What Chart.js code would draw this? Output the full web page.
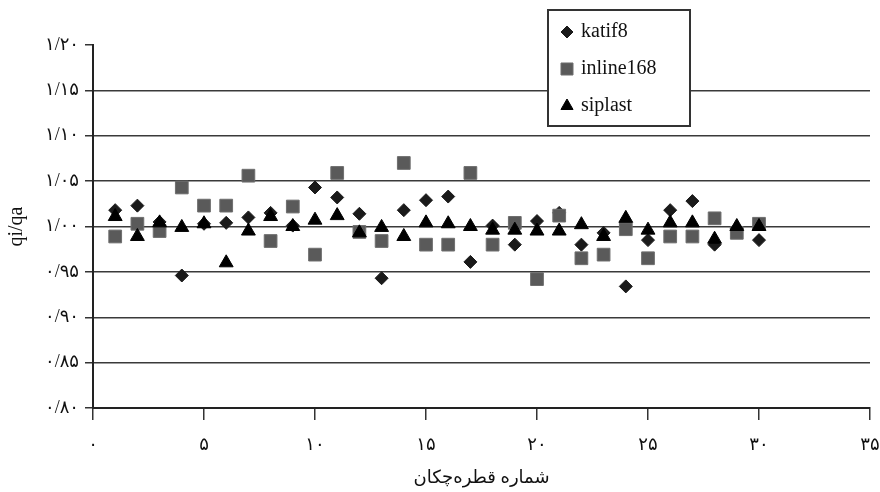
<!DOCTYPE html>
<html>
<head>
<meta charset="utf-8">
<script src="https://cdn.jsdelivr.net/npm/chart.js@4"></script>
<style>
  body { margin: 0; background: #fff; }
  #wrap { width: 880px; height: 492px; }
</style>
</head>
<body>
<div id="wrap"><canvas id="chart"></canvas></div>
<script>
// drippers 1..30
const drippers = [1, 2, 3, 4, 5, 6, 7, 8, 9, 10, 11, 12, 13, 14, 15, 16, 17, 18, 19, 20, 21, 22, 23, 24, 25, 26, 27, 28, 29, 30];
const katif8 = [1.018, 1.023, 1.005, 0.946, 1.003, 1.004, 1.010, 1.015, 1.001, 1.043, 1.032, 1.014, 0.943, 1.018, 1.029,
  1.033, 0.961, 1.001, 0.980, 1.006, 1.015, 0.980, 0.993, 0.934, 0.985, 1.018, 1.028, 0.980, 0.998, 0.985];
const inline168 = [0.989, 1.003, 0.995, 1.043, 1.023, 1.023, 1.056, 0.984, 1.022, 0.969, 1.059, 0.994, 0.984, 1.070, 0.980,
  0.980, 1.059, 0.980, 1.004, 0.942, 1.012, 0.965, 0.969, 0.997, 0.965, 0.989, 0.989, 1.009, 0.993, 1.003];
const siplast = [1.011, 0.989, 1.004, 0.999, 1.003, 0.960, 0.995, 1.011, 1.000, 1.007, 1.012, 0.993, 0.999, 0.989, 1.004,
  1.003, 1.000, 0.996, 0.996, 0.995, 0.995, 1.002, 0.989, 1.009, 0.996, 1.004, 1.004, 0.986, 1.000, 1.000];

const xTickLabels = ['۰', '۵', '۱۰', '۱۵', '۲۰', '۲۵', '۳۰', '۳۵'];
const yTickLabels = ['۰/۸۰', '۰/۸۵', '۰/۹۰', '۰/۹۵', '۱/۰۰', '۱/۰۵', '۱/۱۰', '۱/۱۵', '۱/۲۰'];

const serif = "'Liberation Serif', 'DejaVu Serif', 'DejaVu Sans', serif";

function points(ys) {
  return drippers.map((x, i) => ({ x: x, y: ys[i] }));
}

// legend box drawn inside the plot, like the original
const boxLegend = {
  id: 'boxLegend',
  afterDraw(chart) {
    const ctx = chart.ctx;
    const left = 548, top = 10, w = 142, h = 116;
    const rows = [32, 69, 106];
    ctx.save();
    ctx.fillStyle = '#fff';
    ctx.fillRect(left, top, w, h);
    ctx.strokeStyle = '#333';
    ctx.lineWidth = 2;
    ctx.strokeRect(left, top, w, h);
    chart.data.datasets.forEach((ds, i) => {
      ctx.fillStyle = ds.backgroundColor;
      ctx.strokeStyle = ds.borderColor;
      ctx.lineWidth = 1;
      Chart.helpers.drawPoint(ctx, { pointStyle: ds.pointStyle, radius: ds.legendRadius, borderWidth: 1 }, 567, rows[i]);
      ctx.fillStyle = '#111';
      ctx.font = '20px ' + serif;
      ctx.textBaseline = 'middle';
      ctx.textAlign = 'left';
      ctx.fillText(ds.label, 581, rows[i]);
    });
    ctx.restore();
  }
};

const ctx = document.getElementById('chart').getContext('2d');
const myChart = new Chart(ctx, {
  type: 'scatter',
  data: {
    datasets: [
      {
        label: 'katif8',
        data: points(katif8),
        pointStyle: 'rectRot',
        pointRadius: 6.5,
        legendRadius: 6,
        backgroundColor: '#1a1a1a',
        borderColor: '#1a1a1a',
        borderWidth: 1,
        order: 3
      },
      {
        label: 'inline168',
        data: points(inline168),
        pointStyle: 'rect',
        pointRadius: 9,
        legendRadius: 8.5,
        backgroundColor: '#5a5a5a',
        borderColor: '#6e6e6e',
        borderWidth: 1,
        order: 2
      },
      {
        label: 'siplast',
        data: points(siplast),
        pointStyle: 'triangle',
        pointRadius: 8,
        legendRadius: 7,
        backgroundColor: '#000',
        borderColor: '#000',
        borderWidth: 1,
        order: 1
      }
    ]
  },
  options: {
    responsive: true,
    maintainAspectRatio: false,
    animation: false,
    layout: { padding: { top: 45, right: 10, left: 0, bottom: 0 } },
    plugins: {
      legend: { display: false },
      tooltip: { enabled: false }
    },
    scales: {
      x: {
        type: 'linear',
        min: 0,
        max: 35,
        afterFit: scale => {
          scale.height = 84;
          scale.paddingRight = 0;
          scale.paddingLeft = 0;
        },
        ticks: {
          stepSize: 5,
          padding: 14,
          color: '#111',
          font: { family: serif, size: 18 },
          maxRotation: 0,
          callback: (v, i) => xTickLabels[i]
        },
        grid: {
          drawOnChartArea: false,
          tickLength: 12,
          tickColor: '#333',
          lineWidth: 1.5
        },
        border: { color: '#222', width: 2 },
        title: {
          display: true,
          text: 'شماره قطره‌چکان',
          color: '#111',
          font: { family: serif, size: 18 },
          padding: { top: 3, bottom: 3 }
        }
      },
      y: {
        min: 0.8,
        max: 1.2,
        afterFit: scale => { scale.width = 93; },
        ticks: {
          stepSize: 0.05,
          padding: 6,
          color: '#111',
          font: { family: serif, size: 18 },
          callback: (v, i) => yTickLabels[i]
        },
        grid: {
          color: c => (c.tick && c.tick.value > 1.19 ? 'rgba(0,0,0,0)' : '#3a3a3a'),
          lineWidth: 1.5,
          tickLength: 8,
          tickColor: '#333'
        },
        border: { color: '#222', width: 2 },
        title: {
          display: true,
          text: 'qi/qa',
          color: '#111',
          font: { family: serif, size: 20 },
          padding: { top: 5, bottom: 5 }
        }
      }
    }
  },
  plugins: [boxLegend]
});
</script>
</body>
</html>
